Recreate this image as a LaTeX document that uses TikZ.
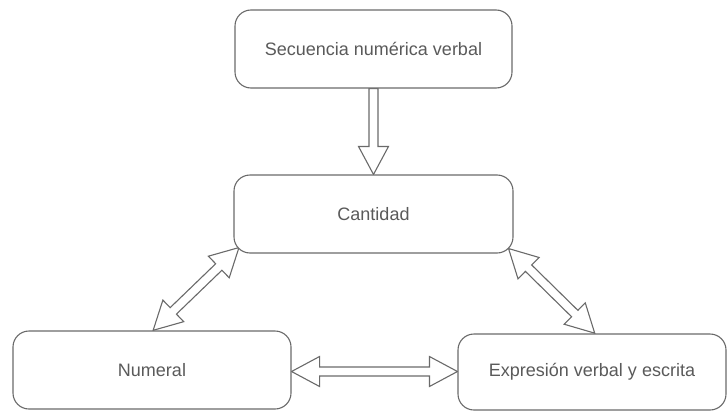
\documentclass[tikz,border=0pt]{standalone}
\usepackage{fontspec}
\setmainfont{Liberation Sans}
\usetikzlibrary{calc,backgrounds}
\definecolor{linec}{HTML}{6A6A6A}
\definecolor{textc}{HTML}{5A5A5A}
\tikzset{
  box/.style={draw=linec, line width=1.1pt, rounded corners=16pt, fill=white,
    font=\fontsize{18}{21}\selectfont, text=textc, inner sep=0pt},
  hollowsingle/.style={draw=linec, line width=1.1pt, fill=white, line join=miter,
    to path={let \p1=(\tikztostart), \p2=(\tikztotarget),
      \n1={atan2(\y2-\y1,\x2-\x1)}, \n2={veclen(\x2-\x1,\y2-\y1)} in
      {[shift={(\p1)}, rotate=\n1]
      (0pt,4.5pt) -- ({(\n2-28)*1pt},4.5pt) -- ({(\n2-28)*1pt},15pt) -- ({\n2*1pt},0pt)
      -- ({(\n2-28)*1pt},-15pt) -- ({(\n2-28)*1pt},-4.5pt) -- (0pt,-4.5pt) -- cycle}}},
  hollowdouble/.style={draw=linec, line width=1.1pt, fill=white, line join=miter,
    to path={let \p1=(\tikztostart), \p2=(\tikztotarget),
      \n1={atan2(\y2-\y1,\x2-\x1)}, \n2={veclen(\x2-\x1,\y2-\y1)} in
      {[shift={(\p1)}, rotate=\n1]
      (0pt,0pt) -- (28pt,15pt) -- (28pt,4.5pt) -- ({(\n2-28)*1pt},4.5pt) -- ({(\n2-28)*1pt},15pt)
      -- ({\n2*1pt},0pt) -- ({(\n2-28)*1pt},-15pt) -- ({(\n2-28)*1pt},-4.5pt)
      -- (28pt,-4.5pt) -- (28pt,-15pt) -- cycle}}}
}
\begin{document}
\begin{tikzpicture}[x=1pt,y=-1pt]
\useasboundingbox (0,0) rectangle (727,412);
\node[box, minimum width=277pt, minimum height=78pt] (top) at (373.5,49) {Secuencia numérica verbal};
\node[box, minimum width=279pt, minimum height=78pt] (cant) at (373.5,214) {Cantidad};
\node[box, minimum width=278pt, minimum height=78pt] (num) at (152,370) {Numeral};
\node[box, minimum width=268pt, minimum height=76pt] (exp) at (592,372) {Expresión verbal y escrita};
\coordinate (cl) at ($(cant.south west)+(5.5,-6)$);
\coordinate (cr) at ($(cant.south east)+(-5,-5)$);
\coordinate (nt) at ($(num.north)+(1,0)$);
\coordinate (et) at ($(exp.north)+(3,0)$);
\coordinate (ne) at ($(num.east)+(0,1.5)$);
\coordinate (ew) at (ne -| exp.west);
\begin{scope}[on background layer]
\draw[hollowsingle] (top.south) to (cant.north);
\draw[hollowdouble] (cl) to (nt);
\draw[hollowdouble] (cr) to (et);
\draw[hollowdouble] (ne) to (ew);
\end{scope}
\end{tikzpicture}
\end{document}
